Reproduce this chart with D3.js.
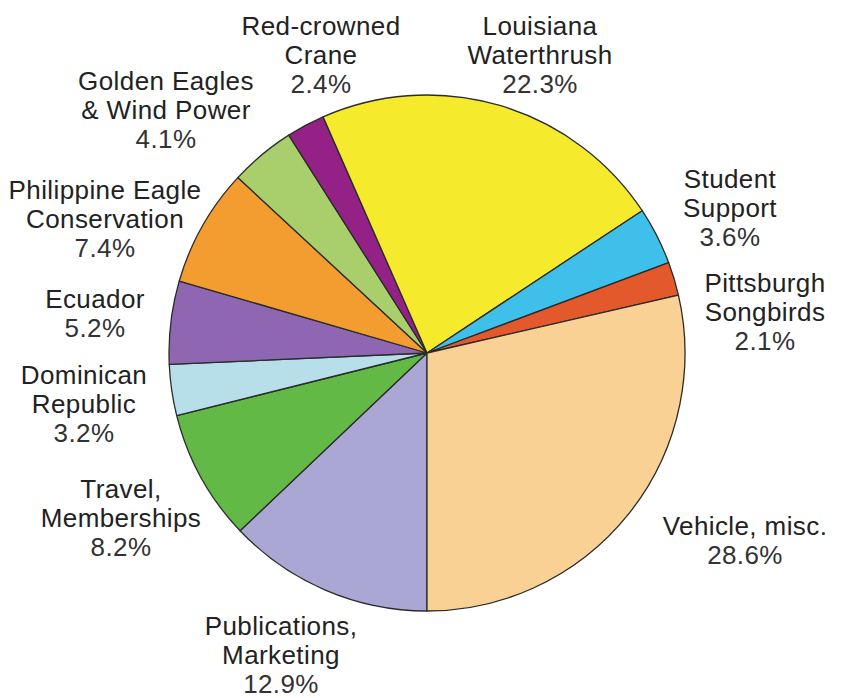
<!DOCTYPE html>
<html>
<head>
<meta charset="utf-8">
<script src="https://cdn.jsdelivr.net/npm/d3@7"></script>
<style>
  body { margin: 0; background: #fff; }
  text { font-family: "Liberation Sans", Arial, sans-serif; }
</style>
</head>
<body>
<div id="chart"></div>
<script>
// slice data, clockwise starting from 6 o'clock
const categories = [
    ["Publications,", "Marketing"],
    ["Travel,", "Memberships"],
    ["Dominican", "Republic"],
    ["Ecuador"],
    ["Philippine Eagle", "Conservation"],
    ["Golden Eagles", "& Wind Power"],
    ["Red-crowned", "Crane"],
    ["Louisiana", "Waterthrush"],
    ["Student", "Support"],
    ["Pittsburgh", "Songbirds"],
    ["Vehicle, misc."]
];
const values = [12.9, 8.2, 3.2, 5.2, 7.4, 4.1, 2.4, 22.3, 3.6, 2.1, 28.6];
const colors = ["#aaa7d5", "#63b946", "#b6dfe9", "#8f66b2", "#f39c2f", "#a8cf6b",
    "#942186", "#f6ea2c", "#3fc0ea", "#e3592b", "#fad194"];

// label anchor (centre of first line) for each slice, in page pixels
const labelPos = [
    [281, 635], [121, 498], [84, 384], [95, 308], [105, 199], [166, 90],
    [321, 35], [540, 35], [730, 188], [765, 292], [745, 535]
];

const width = 843, height = 698;
const cx = 427, cy = 353, radius = 258;
const lineH = 29;

const svg = d3.select("#chart")
    .append("svg")
    .attr("width", width)
    .attr("height", height);

const pie = d3.pie()
    .sort(null)
    .startAngle(-Math.PI)
    .endAngle(Math.PI)
    .value(d => d);

const arc = d3.arc().innerRadius(0).outerRadius(radius);

const g = svg.append("g")
    .attr("transform", "translate(" + cx + "," + cy + ")");

g.selectAll("path")
    .data(pie(values))
    .join("path")
    .attr("d", arc)
    .attr("fill", (d, i) => colors[i])
    .attr("stroke", "#2b2b2b")
    .attr("stroke-width", 1.3)
    .attr("stroke-linejoin", "round");

// labels
const labels = svg.selectAll("text.lbl")
    .data(categories)
    .join("text")
    .attr("class", "lbl")
    .attr("text-anchor", "middle")
    .attr("font-size", 26)
    .attr("letter-spacing", 0.4)
    .attr("fill", "#222")
    .attr("x", (d, i) => labelPos[i][0])
    .attr("y", (d, i) => labelPos[i][1]);

labels.each(function(d, i) {
    const t = d3.select(this);
    d.forEach((line, j) => {
        t.append("tspan")
            .attr("x", labelPos[i][0])
            .attr("dy", j === 0 ? 0 : lineH)
            .text(line);
    });
    t.append("tspan")
        .attr("x", labelPos[i][0])
        .attr("dy", lineH)
        .attr("fill", "#333")
        .text(values[i].toFixed(1) + "%");
});
</script>
</body>
</html>
